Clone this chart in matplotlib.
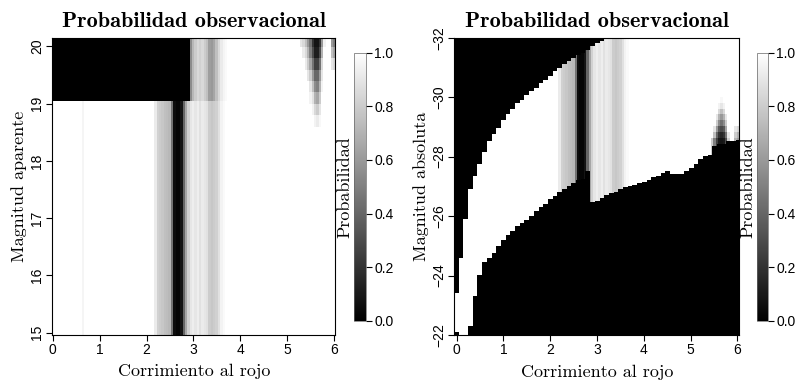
import numpy as np
import matplotlib
matplotlib.use("Agg")
import matplotlib.pyplot as plt

plt.rcParams["font.family"] = ["Liberation Sans", "DejaVu Sans"]

# ---- data ----
# column profile (probability vs redshift), shared by both panels
prof_z = [2.15, 2.20, 2.25, 2.30, 2.35, 2.40, 2.45, 2.50, 2.55, 2.60, 2.65, 2.70,
          2.75, 2.80, 2.85, 2.90, 2.95, 3.00, 3.05, 3.10, 3.15, 3.20, 3.25, 3.30,
          3.35, 3.40, 3.45, 3.50, 3.55, 3.60, 3.65, 3.70]
prof_low = [1.0, 0.92, 0.82, 0.80, 0.78, 0.75, 0.74, 0.72, 0.45, 0.05, 0.02, 0.02,
            0.08, 0.40, 0.65, 0.82, 0.90, 0.93, 0.90, 0.93, 0.88, 0.92, 0.90, 0.88,
            0.80, 0.78, 0.80, 0.82, 0.88, 0.95, 0.98, 1.0]
prof_top = [0.0, 0.0, 0.0, 0.0, 0.0, 0.0, 0.0, 0.0, 0.0, 0.0, 0.0, 0.0,
            0.0, 0.0, 0.0, 0.0, 0.55, 0.72, 0.80, 0.85, 0.82, 0.85, 0.80, 0.75,
            0.62, 0.60, 0.65, 0.75, 0.85, 0.92, 0.96, 0.98]
faint_line_z = 0.65
faint_line_p = 0.96

# left panel: black block at faint apparent magnitudes
block_mag = 19.05
block_zmax = 2.925

# left panel: dark wedge near z~5.6 (rows = apparent magnitude)
wedge_z = [5.30, 5.35, 5.40, 5.45, 5.50, 5.55, 5.60, 5.65, 5.70, 5.75, 5.80,
           5.85, 5.90, 5.95, 6.00]
wedge_mag = [20.10, 19.90, 19.70, 19.50, 19.30, 19.10, 18.90, 18.70]
wedge_p = [
    [0.90, 0.85, 0.75, 0.60, 0.45, 0.20, 0.08, 0.08, 0.20, 0.60, 0.95, 1.0, 1.0, 0.60, 0.50],
    [1.0, 0.92, 0.85, 0.70, 0.50, 0.30, 0.12, 0.12, 0.30, 0.70, 1.0, 1.0, 1.0, 0.75, 0.65],
    [1.0, 1.0, 0.92, 0.80, 0.65, 0.45, 0.25, 0.25, 0.45, 0.85, 1.0, 1.0, 1.0, 0.90, 0.85],
    [1.0, 1.0, 1.0, 0.90, 0.80, 0.60, 0.40, 0.40, 0.60, 0.90, 1.0, 1.0, 1.0, 1.0, 1.0],
    [1.0, 1.0, 1.0, 1.0, 0.90, 0.75, 0.55, 0.50, 0.70, 0.95, 1.0, 1.0, 1.0, 1.0, 1.0],
    [1.0, 1.0, 1.0, 1.0, 0.95, 0.88, 0.70, 0.65, 0.80, 1.0, 1.0, 1.0, 1.0, 1.0, 1.0],
    [1.0, 1.0, 1.0, 1.0, 1.0, 0.95, 0.85, 0.80, 0.90, 1.0, 1.0, 1.0, 1.0, 1.0, 1.0],
    [1.0, 1.0, 1.0, 1.0, 1.0, 1.0, 0.95, 0.92, 0.97, 1.0, 1.0, 1.0, 1.0, 1.0, 1.0],
]

# right panel: bright / faint absolute-magnitude limits per redshift bin
bound_z = [0.0, 0.1, 0.2, 0.3, 0.4, 0.5, 0.6, 0.7, 0.8, 0.9, 1.0, 1.1, 1.2, 1.3,
           1.4, 1.5, 1.6, 1.7, 1.8, 1.9, 2.0, 2.1, 2.2, 2.3, 2.4, 2.5, 2.6, 2.7,
           2.8, 2.9, 3.0, 3.1, 3.2, 3.3, 3.4, 3.5, 3.6, 3.7, 3.8, 3.9, 4.0, 4.1,
           4.2, 4.3, 4.4, 4.5, 4.6, 4.7, 4.8, 4.9, 5.0, 5.1, 5.2, 5.3, 5.4, 5.5,
           5.6, 5.7, 5.8, 5.9, 6.0]
M_bright = [-23.4, -24.6, -25.9, -26.9, -27.35, -27.75, -28.15, -28.5, -28.75,
            -28.95, -29.2, -29.4, -29.6, -29.8, -29.9, -30.05, -30.2, -30.3,
            -30.45, -30.55, -30.7, -30.85, -30.95, -31.1, -31.2, -31.3, -31.4,
            -31.45, -31.55, -31.7, -31.8, -31.85, -31.92, -31.98] + [-33.0] * 27
M_faint = [-22.1, -22.0, -22.0, -22.3, -23.3, -24.0, -24.45, -24.6, -24.75,
           -25.0, -25.2, -25.35, -25.5, -25.65, -25.75, -25.85, -26.0, -26.15,
           -26.3, -26.4, -26.55, -26.65, -26.8, -26.9, -27.0, -27.1, -27.2,
           -27.25, -27.5, -26.45, -26.5, -26.6, -26.7, -26.75, -26.8, -26.9,
           -26.95, -27.0, -27.05, -27.1, -27.15, -27.2, -27.3, -27.35, -27.45,
           -27.5, -27.4, -27.4, -27.4, -27.5, -27.6, -27.75, -27.9, -28.0,
           -28.05, -28.35, -28.4, -28.4, -28.5, -28.5, -28.55]

# right panel: dark streak near z~5.6 (rows = absolute magnitude)
streak_z = [5.45, 5.50, 5.55, 5.60, 5.65, 5.70, 5.75, 5.80, 5.85, 5.90, 5.95, 6.00]
streak_M = [-28.5, -28.7, -28.9, -29.1, -29.3, -29.5, -29.7, -29.9]
streak_p = [
    [0.80, 0.50, 0.25, 0.10, 0.08, 0.10, 0.30, 0.80, 1.0, 1.0, 0.70, 0.60],
    [1.0, 0.75, 0.40, 0.20, 0.15, 0.20, 0.45, 0.90, 1.0, 1.0, 0.80, 0.70],
    [1.0, 0.90, 0.60, 0.35, 0.30, 0.35, 0.65, 1.0, 1.0, 1.0, 0.90, 0.85],
    [1.0, 1.0, 0.80, 0.55, 0.45, 0.55, 0.80, 1.0, 1.0, 1.0, 1.0, 1.0],
    [1.0, 1.0, 0.90, 0.70, 0.60, 0.70, 0.90, 1.0, 1.0, 1.0, 1.0, 1.0],
    [1.0, 1.0, 1.0, 0.85, 0.75, 0.85, 1.0, 1.0, 1.0, 1.0, 1.0, 1.0],
    [1.0, 1.0, 1.0, 0.95, 0.90, 0.95, 1.0, 1.0, 1.0, 1.0, 1.0, 1.0],
    [1.0, 1.0, 1.0, 1.0, 0.97, 1.0, 1.0, 1.0, 1.0, 1.0, 1.0, 1.0],
]


def nearest(x, xs, vals):
    """step lookup: value of the bin whose centre is closest to x"""
    xs = np.asarray(xs, float)
    vals = np.asarray(vals, float)
    edges = (xs[1:] + xs[:-1]) / 2
    return vals[np.searchsorted(edges, x)]


def in_range(x, xs):
    half = (xs[1] - xs[0]) / 2
    return (x >= min(xs) - abs(half)) & (x <= max(xs) + abs(half))


def table(Z, Y, zs, ys, tab):
    tab = np.asarray(tab, float)
    iz = np.searchsorted((np.array(zs[1:]) + np.array(zs[:-1])) / 2, Z)
    ys = np.asarray(ys, float)
    order = np.argsort(ys)
    ys_s = ys[order]
    iy = np.searchsorted((ys_s[1:] + ys_s[:-1]) / 2, Y)
    return tab[order[iy], iz]


# ---- left panel grid ----
zl = np.arange(-0.005, 6.025, 0.01) + 0.005
ml = np.arange(14.97, 20.15, 0.01) + 0.005
Z, MAG = np.meshgrid(zl, ml)
left = np.ones_like(Z)
inp = in_range(Z, prof_z)
left[inp] = nearest(Z[inp], prof_z, prof_low)
left[np.abs(Z - faint_line_z) < 0.03] = faint_line_p
top = MAG >= block_mag
top_vals = np.where(Z < block_zmax, 0.0, 1.0)
top_vals[inp] = np.where(Z[inp] < block_zmax, 0.0, nearest(Z[inp], prof_z, prof_top))
left[top] = top_vals[top]
w = in_range(Z, wedge_z) & (MAG > 18.6)
left[w] = np.minimum(left[w], table(Z[w], MAG[w], wedge_z, wedge_mag, wedge_p))

# ---- right panel grid ----
zr = np.arange(-0.05, 6.04, 0.01) + 0.005
mr = np.arange(-32.0, -22.0, 0.01) + 0.005
Z2, M2 = np.meshgrid(zr, mr)
lo = nearest(Z2, bound_z, M_bright)
hi = nearest(Z2, bound_z, M_faint)
inside = (M2 > lo) & (M2 < hi)
right = np.ones_like(Z2)
inp2 = in_range(Z2, prof_z)
right[inp2] = nearest(Z2[inp2], prof_z, prof_low)
s = in_range(Z2, streak_z) & (M2 > -30.0)
right[s] = np.minimum(right[s], table(Z2[s], M2[s], streak_z, streak_M, streak_p))
right[~inside] = 0.0

# ---- plot ----
fig = plt.figure(figsize=(7.99, 3.84), dpi=100)
axes = [fig.add_axes([0.0657, 0.1289, 0.3536, 0.7730]),
        fig.add_axes([0.5686, 0.1276, 0.3567, 0.7743])]
caxes = [fig.add_axes([0.4430, 0.1648, 0.0150, 0.6979]),
         fig.add_axes([0.9474, 0.1648, 0.0140, 0.6979])]

serif = "cmr10"
tick_kw = dict(direction="out", length=4, width=0.8, labelsize=10, pad=2)

imgs = [(left, (zl[0] - 0.005, zl[-1] + 0.005, ml[0] - 0.005, ml[-1] + 0.005)),
        (right, (zr[0] - 0.005, zr[-1] + 0.005, mr[0] - 0.005, mr[-1] + 0.005))]
ylabels = ["Magnitud aparente", "Magnitud absoluta"]

for i, ax in enumerate(axes):
    arr, ext = imgs[i]
    im = ax.imshow(arr, extent=ext, origin="lower", aspect="auto", cmap="gray",
                   vmin=0, vmax=1, interpolation="nearest")
    ax.set_xticks(range(7))
    ax.tick_params(**tick_kw)
    for sp in ax.spines.values():
        sp.set_linewidth(0.8)
    ax.set_title("Probabilidad observacional", fontfamily="cmb10", fontsize=16, pad=8)
    ax.set_xlabel("Corrimiento al rojo", fontfamily=serif, fontsize=13, labelpad=5)
    ax.set_ylabel(ylabels[i], fontfamily=serif, fontsize=13, labelpad=2)

    cb = fig.colorbar(im, cax=caxes[i], ticks=[0, 0.2, 0.4, 0.6, 0.8, 1.0])
    cb.ax.set_yticklabels(["0.0", "0.2", "0.4", "0.6", "0.8", "1.0"])
    cb.ax.tick_params(direction="out", length=4, width=0.8, labelsize=10, pad=2)
    cb.outline.set_linewidth(0.5)
    cb.outline.set_edgecolor("0.4")
    cb.ax.yaxis.set_label_position("left")
    cb.set_label("Probabilidad", fontfamily=serif, fontsize=13, labelpad=1)

axes[0].set_xlim(-0.005, 6.02)
axes[0].set_ylim(14.97, 20.15)
axes[0].set_yticks(range(15, 21))
axes[1].set_xlim(-0.05, 6.04)
axes[1].set_ylim(-22, -32)
axes[1].set_yticks(range(-32, -21, 2))
for ax in axes:
    for lab in ax.get_yticklabels():
        lab.set_rotation(90)
        lab.set_va("center")

fig.savefig("out.png", dpi=100)
